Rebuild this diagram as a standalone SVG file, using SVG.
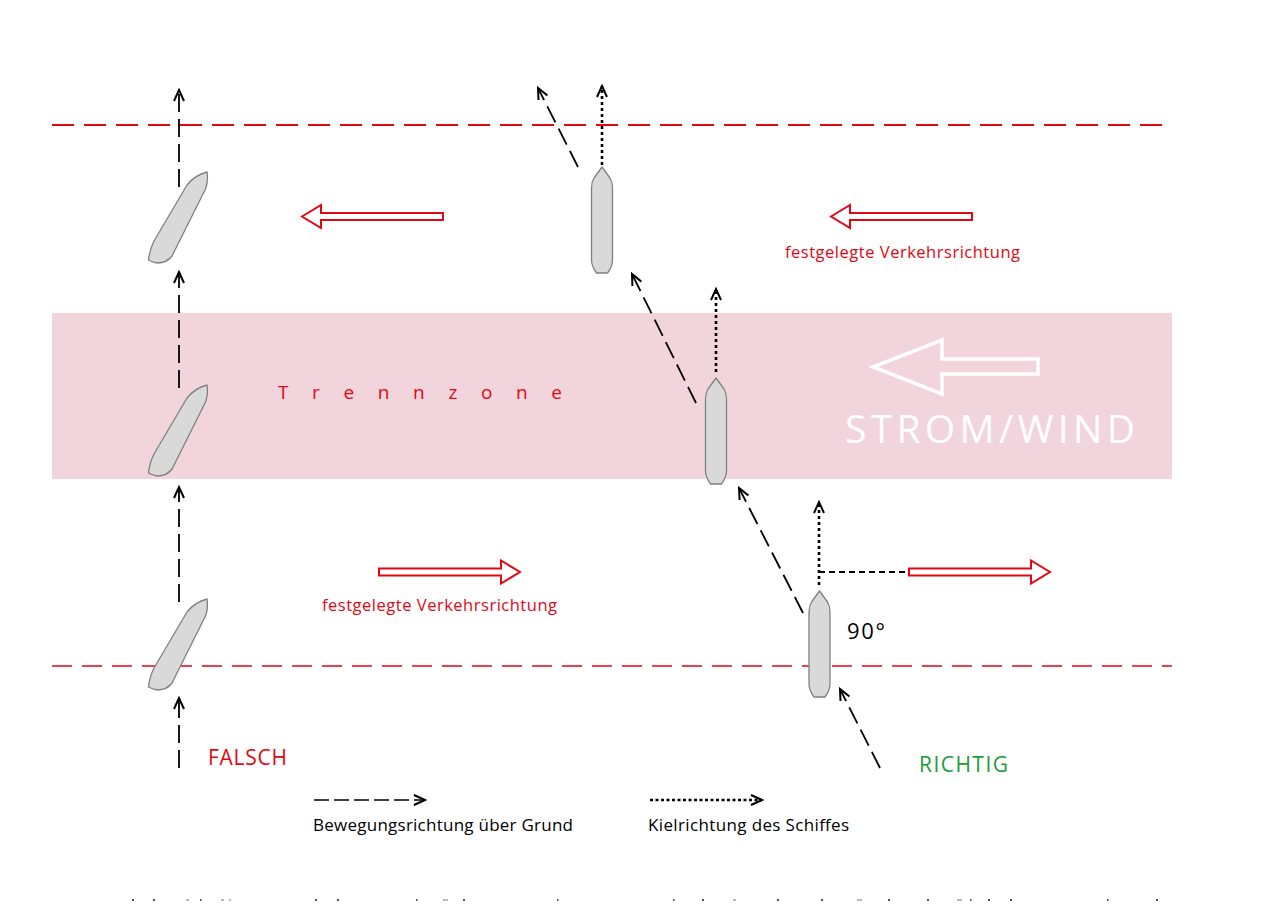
<svg xmlns="http://www.w3.org/2000/svg" width="1266" height="922" viewBox="0 0 1266 922">
<style>
.redline{stroke:#e30613;fill:none}
.track{stroke:#000;stroke-width:1.8;fill:none;stroke-dasharray:18 7}
.keel{stroke:#000;stroke-width:2.6;fill:none;stroke-dasharray:3 3}
.ship{fill:#d9d9d9;stroke:#808080;stroke-width:1.3;stroke-linejoin:round}
.redarrow{fill:#fff;stroke:#e30613;stroke-width:2;stroke-linejoin:miter}
.lbl{font-family:"Open Sans","Noto Sans","Liberation Sans",sans-serif}
.red{fill:#e30613}
</style>
<defs>
<marker id="ah" markerUnits="userSpaceOnUse" markerWidth="14" markerHeight="16" viewBox="-12 -8 14 16" refX="0" refY="0" orient="auto">
<path d="M-11,-5 L0,0 L-11,5" fill="none" stroke="#000" stroke-width="2"/>
</marker>
<path id="shipV" d="M0,-53 L8,-42 Q10.5,-38 10.5,-32 L10.5,40 Q10.5,46 5.5,53 L-5.5,53 Q-10.5,46 -10.5,40 L-10.5,-32 Q-10.5,-38 -8,-42 Z"/>
<path id="shipS" d="M28,-45 C28.8,-40 28.3,-33 26.5,-28 L-7,39 Q-12,46 -22,46 Q-27,45 -30.5,43 Q-29.5,33 -25,24 L8,-32 Q16,-42 28,-45 Z"/>
<path id="redL" d="M0,0 L19,-11.5 L19,-3.5 L141,-3.5 L141,3.5 L19,3.5 L19,11.5 Z"/>
</defs>
<rect width="1266" height="922" fill="#fff"/>
<g id="trennzone">
<rect x="52" y="313" width="1120" height="166" fill="#f2d4dc"/>
<text class="lbl red" x="278" y="399" font-size="19" textLength="284" lengthAdjust="spacing">T r e n n z o n e</text>
</g>
<g id="boundaries">
<line class="redline" x1="52" y1="125" x2="1172" y2="125" stroke-width="2.2" stroke-dasharray="22 10"/>
<line class="redline" x1="52" y1="666" x2="1172" y2="666" stroke-width="1.5" stroke-dasharray="20 10"/>
</g>
<g id="strom-wind">
<path d="M873,367 L942,340 L942,359 L1038,359 L1038,374 L942,374 L942,394 Z" fill="none" stroke="#fff" stroke-width="3.5"/>
<text class="lbl" x="845" y="443" font-size="39" fill="#fff" textLength="290" lengthAdjust="spacing">STROM/WIND</text>
</g>
<g id="traffic-directions">
<use href="#redL" class="redarrow" transform="translate(302,216.5)"/>
<use href="#redL" class="redarrow" transform="translate(831,216.5)"/>
<use href="#redL" class="redarrow" transform="translate(520,572) scale(-1,1)"/>
<use href="#redL" class="redarrow" transform="translate(1050,572) scale(-1,1)"/>
<text class="lbl red" x="785" y="258" font-size="16.5" textLength="235">festgelegte Verkehrsrichtung</text>
<text class="lbl red" x="322" y="611" font-size="16.5" textLength="235">festgelegte Verkehrsrichtung</text>
</g>
<g id="connectors">
<line class="track" x1="179" y1="768" x2="179" y2="698" marker-end="url(#ah)"/>
<line class="track" x1="179" y1="602" x2="179" y2="487" marker-end="url(#ah)"/>
<line class="track" x1="179" y1="388" x2="179" y2="272" marker-end="url(#ah)"/>
<line class="track" x1="179" y1="187" x2="179" y2="90" marker-end="url(#ah)"/>
<line class="track" x1="578" y1="167" x2="538" y2="88" marker-end="url(#ah)"/>
<line class="track" x1="696" y1="403" x2="632" y2="274" marker-end="url(#ah)"/>
<line class="track" x1="803" y1="613" x2="739" y2="488" marker-end="url(#ah)"/>
<line class="track" x1="880" y1="768" x2="840" y2="689" marker-end="url(#ah)"/>
<line class="keel" x1="602" y1="165" x2="602" y2="86" marker-end="url(#ah)"/>
<line class="keel" x1="716" y1="372" x2="716" y2="289" marker-end="url(#ah)"/>
<line class="keel" x1="819" y1="585" x2="819" y2="502" marker-end="url(#ah)"/>
<line x1="819" y1="572" x2="906" y2="572" stroke="#000" stroke-width="2" stroke-dasharray="6 4"/>
</g>
<g id="ship-falsch-1"><use href="#shipS" class="ship" transform="translate(179,217)"/></g>
<g id="ship-falsch-2"><use href="#shipS" class="ship" transform="translate(179,430)"/></g>
<g id="ship-falsch-3"><use href="#shipS" class="ship" transform="translate(179,644)"/></g>
<g id="ship-richtig-1"><use href="#shipV" class="ship" transform="translate(602,220)"/></g>
<g id="ship-richtig-2"><use href="#shipV" class="ship" transform="translate(716,431)"/></g>
<g id="ship-richtig-3"><use href="#shipV" class="ship" transform="translate(819.5,644)"/></g>
<g id="labels">
<text class="lbl" x="847" y="639" font-size="22" fill="#000" textLength="38">90°</text>
<text class="lbl red" x="208" y="765" font-size="21" textLength="79">FALSCH</text>
<text class="lbl" x="919" y="772" font-size="21" fill="#1e9a3c" textLength="89">RICHTIG</text>
</g>
<g id="legend">
<line x1="314" y1="800" x2="425" y2="800" stroke="#000" stroke-width="1.6" stroke-dasharray="15 5" marker-end="url(#ah)"/>
<text class="lbl" x="313" y="831" font-size="17" fill="#000" textLength="260">Bewegungsrichtung über Grund</text>
<line x1="650" y1="800" x2="762" y2="800" stroke="#000" stroke-width="2.6" stroke-dasharray="3 2.5" marker-end="url(#ah)"/>
<text class="lbl" x="648" y="831" font-size="17" fill="#000" textLength="201">Kielrichtung des Schiffes</text>
</g>
<g id="cut-off-remnants" fill="#555">
<rect x="132" y="899" width="2" height="2"/><rect x="153" y="899" width="2" height="2"/><rect x="186" y="899" width="3" height="2" fill="#bbb"/><rect x="200" y="899" width="1.5" height="2"/><rect x="221" y="899" width="3" height="2" fill="#bbb"/><rect x="229" y="899" width="2" height="2" fill="#bbb"/><rect x="315" y="899" width="2" height="2"/><rect x="337" y="899" width="2" height="2"/><rect x="416" y="899" width="1.5" height="2"/><rect x="443" y="899" width="5" height="2" fill="#bbb"/><rect x="463" y="899" width="2" height="2"/><rect x="557" y="899" width="1.5" height="2"/><rect x="673" y="899" width="1.5" height="2"/><rect x="702" y="899" width="2" height="2"/><rect x="733" y="899" width="3" height="2" fill="#bbb"/><rect x="777" y="899" width="2" height="2"/><rect x="821" y="899" width="2" height="2"/><rect x="857" y="899" width="5" height="2" fill="#bbb"/><rect x="888" y="899" width="2" height="2"/><rect x="927" y="899" width="2" height="2"/><rect x="957" y="899" width="5" height="2" fill="#bbb"/><rect x="970" y="899" width="1.5" height="2"/><rect x="988" y="899" width="2" height="2"/><rect x="1010" y="899" width="2" height="2"/><rect x="1107" y="899" width="1.5" height="2"/><rect x="1156" y="899" width="2" height="2"/>
</g>
</svg>
